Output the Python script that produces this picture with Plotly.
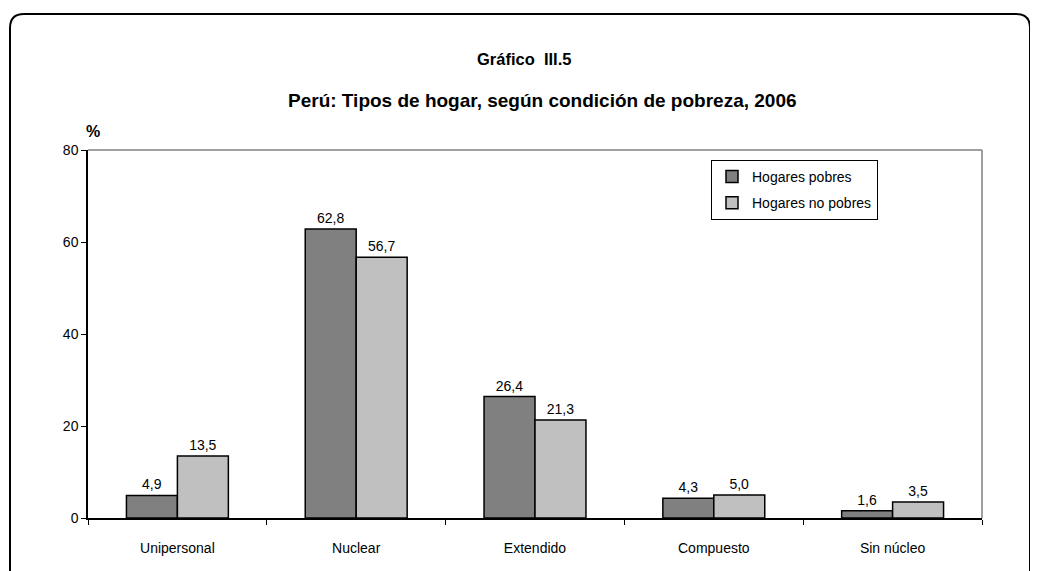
import plotly.graph_objects as go

categorias = ["Unipersonal", "Nuclear", "Extendido", "Compuesto", "Sin núcleo"]
pobres = [4.9, 62.8, 26.4, 4.3, 1.6]
no_pobres = [13.5, 56.7, 21.3, 5.0, 3.5]

# la página tiene 8px de margen en el body
OFF = 8
W, H = 1038 - OFF, 571 - OFF
L, R, T, B = 88 - OFF, 56, 150 - OFF, 53
pw, ph = W - L - R, H - T - B


def px(x):
    return (x - OFF - L) / pw


def py(y):
    return (H - B - (y - OFF)) / ph


def fmt(v):
    return f"{v:.1f}".replace(".", ",")


fig = go.Figure()
fig.add_trace(go.Bar(
    name="Hogares pobres", x=categorias, y=pobres, legendgroup="a",
    marker=dict(color="#808080", line=dict(color="black", width=1.5)),
    text=[fmt(v) for v in pobres], textposition="outside",
    textfont=dict(size=14, color="black"), cliponaxis=False,
))
fig.add_trace(go.Bar(
    name="Hogares no pobres", x=categorias, y=no_pobres, legendgroup="b",
    marker=dict(color="#c0c0c0", line=dict(color="black", width=1.5)),
    text=[fmt(v) for v in no_pobres], textposition="outside",
    textfont=dict(size=14, color="black"), cliponaxis=False,
))

# marco redondeado exterior
x0, x1, y0, y1, r = 10, 1030, 14, 600, 14
path = (f"M {px(x0)},{py(y0 + r)} Q {px(x0)},{py(y0)} {px(x0 + r)},{py(y0)} "
        f"L {px(x1 - r)},{py(y0)} Q {px(x1)},{py(y0)} {px(x1)},{py(y0 + r)} "
        f"L {px(x1)},{py(y1)} L {px(x0)},{py(y1)} Z")
fig.add_shape(type="path", path=path, xref="paper", yref="paper",
              line=dict(color="black", width=2))
# borde gris superior y derecho del área
fig.add_shape(type="line", x0=0, x1=1, y0=1, y1=1, xref="paper", yref="paper",
              line=dict(color="#808080", width=1.5))
fig.add_shape(type="line", x0=1, x1=1, y0=0, y1=1, xref="paper", yref="paper",
              line=dict(color="#808080", width=1.5))

fig.add_annotation(text="<b>Gráfico  III.5</b>", x=px(524), y=py(48), xref="paper", yref="paper",
                   showarrow=False, font=dict(size=16.5, color="black"))
fig.add_annotation(text="<b>Perú: Tipos de hogar, según condición de pobreza, 2006</b>",
                   x=px(542), y=py(88), xref="paper", yref="paper",
                   showarrow=False, font=dict(size=19, color="black"))
fig.add_annotation(text="<b>%</b>", x=px(84), y=py(121), xref="paper", yref="paper",
                   showarrow=False, font=dict(size=16, color="black"))

fig.update_layout(
    width=W, height=H,
    margin=dict(l=L, r=R, t=T, b=B),
    paper_bgcolor="white", plot_bgcolor="white",
    font=dict(family="Liberation Sans, Arial, sans-serif", size=14, color="black"),
    barmode="group", bargap=0.43, bargroupgap=0,
    showlegend=True,
    legend=dict(x=px(711), y=py(160), xanchor="left", yanchor="top",
                bordercolor="black", borderwidth=1, bgcolor="white",
                font=dict(size=14), tracegroupgap=5, itemwidth=30),
    xaxis=dict(showline=True, linecolor="black", linewidth=1.5,
               ticks="outside", ticklen=5, tickcolor="black",
               tickson="boundaries", showgrid=False, ticklabelstandoff=16),
    yaxis=dict(range=[0, 80], dtick=20, showline=True, linecolor="black",
               linewidth=1.5, ticks="outside", ticklen=5, tickcolor="black",
               showgrid=False, zeroline=False),
)

fig.write_html("out.html")
